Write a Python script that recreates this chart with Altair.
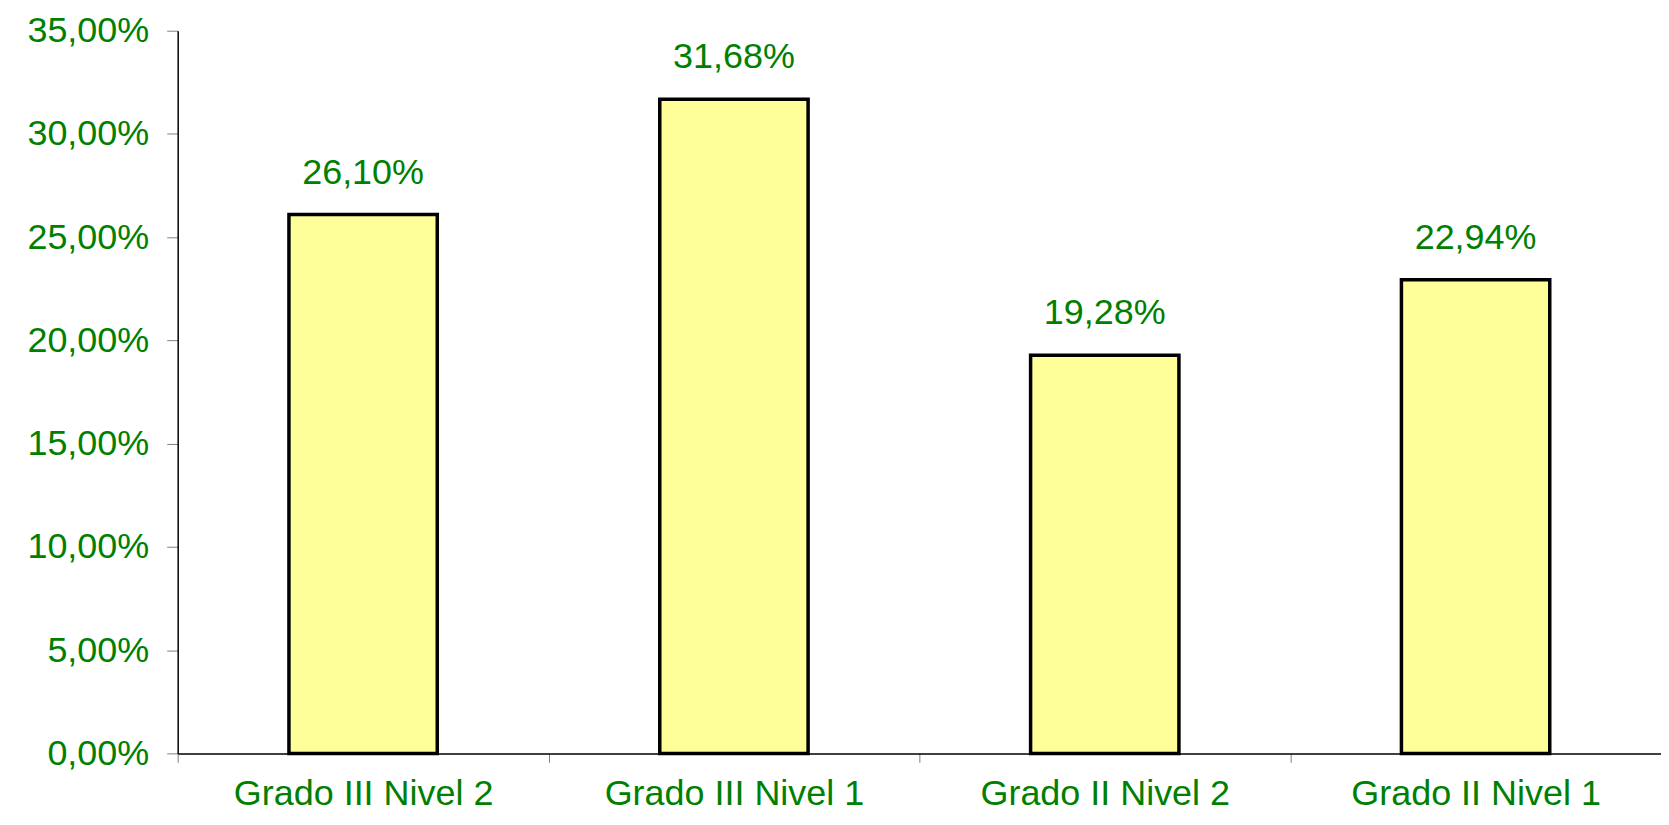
import altair as alt
import pandas as pd

categories = ["Grado III Nivel 2", "Grado III Nivel 1", "Grado II Nivel 2", "Grado II Nivel 1"]
values = [0.2610, 0.3168, 0.1928, 0.2294]
y_ticks = [0, 0.05, 0.10, 0.15, 0.20, 0.25, 0.30, 0.35]

df = pd.DataFrame({"cat": categories, "val": values})

GREEN = "#008000"
FONT = "Liberation Sans"
FS = 36

x_enc = alt.X("cat:N", sort=categories, title=None,
              scale=alt.Scale(paddingInner=0, paddingOuter=0),
              axis=alt.Axis(labelAngle=0, labelColor=GREEN, labelFont=FONT, labelFontSize=FS,
                            labelLimit=0, labelPadding=14, tickBand="extent",
                            tickColor="#808080", tickSize=9,
                            domainColor="#000000", domainWidth=1.5, grid=False))
y_enc = alt.Y("val:Q", title=None,
              scale=alt.Scale(domain=[0, 0.35], nice=False),
              axis=alt.Axis(values=y_ticks, labelColor=GREEN, labelFont=FONT, labelFontSize=FS,
                            labelExpr="replace(format(datum.value, '.2%'), '.', ',')",
                            labelPadding=18, tickColor="#808080", tickSize=11,
                            domainColor="#000000", domainWidth=1.5, grid=False))

bars = alt.Chart(df).mark_bar(fill="#FFFF99", stroke="#000000", strokeWidth=3.5,
                              width=alt.RelativeBandSize(0.4)).encode(x=x_enc, y=y_enc)

text = alt.Chart(df).transform_calculate(
    lab="replace(format(datum.val, '.2%'), '.', ',')"
).mark_text(color=GREEN, font=FONT, fontSize=FS, baseline="alphabetic", dy=-31).encode(
    x=alt.X("cat:N", sort=categories),
    y=alt.Y("val:Q"),
    text="lab:N")

chart = alt.layer(bars, text).properties(
    width=1486, height=724,
    background="white",
    autosize=alt.AutoSizeParams(type="none"),
    padding={"left": 170, "top": 22, "right": 0, "bottom": 63},
).configure_view(stroke=None).configure_axis(grid=False)

chart.save("out.html", embed_options={"renderer": "svg", "actions": False})
